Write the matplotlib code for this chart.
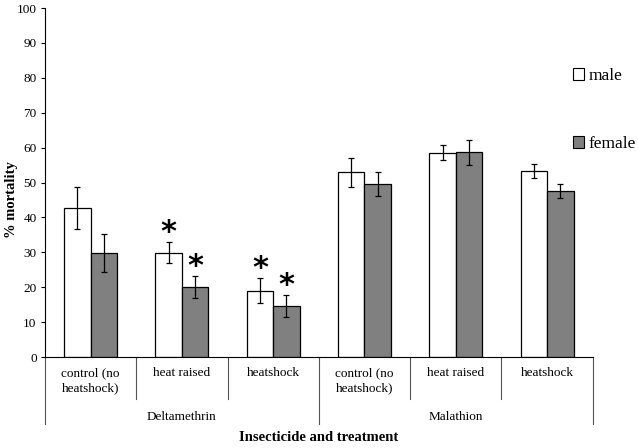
import matplotlib
matplotlib.use("Agg")
import matplotlib.pyplot as plt
from matplotlib.patches import Patch
import numpy as np

plt.rcParams['font.family'] = ['Liberation Serif', 'DejaVu Serif']

treatments = ["control (no\nheatshock)", "heat raised", "heatshock",
              "control (no\nheatshock)", "heat raised", "heatshock"]
insecticides = ["Deltamethrin", "Malathion"]
male = [42.7, 29.9, 19.0, 52.9, 58.6, 53.3]
male_err = [6.1, 3.0, 3.6, 4.2, 2.2, 2.0]
female = [29.8, 20.0, 14.6, 49.5, 58.7, 47.6]
female_err = [5.5, 3.1, 3.2, 3.4, 3.6, 2.0]
male_sig = [False, True, True, False, False, False]
female_sig = [False, True, True, False, False, False]

fig = plt.figure(figsize=(6.38, 4.48), dpi=100)
ax = fig.add_axes([0.0705, 0.2031, 0.8585, 0.7789])

x = np.arange(len(treatments))
w = 0.29
off = 0.145
ekw = dict(elinewidth=0.9, capthick=0.9, ecolor='black')
ax.bar(x - off, male, w, color='white', edgecolor='black', linewidth=0.9,
       yerr=male_err, capsize=2, error_kw=ekw, zorder=2)
ax.bar(x + off, female, w, color='#808080', edgecolor='black', linewidth=0.9,
       yerr=female_err, capsize=2, error_kw=ekw, zorder=2)

for i in range(len(x)):
    if male_sig[i]:
        ax.text(x[i] - off, male[i] + male_err[i] + 3.6, "*", ha='center', va='center_baseline',
                fontsize=22, fontweight='bold', family='DejaVu Sans')
    if female_sig[i]:
        ax.text(x[i] + off, female[i] + female_err[i] + 3.6, "*", ha='center', va='center_baseline',
                fontsize=22, fontweight='bold', family='DejaVu Sans')

ax.set_xlim(-0.5, len(x) - 0.5)
ax.set_ylim(0, 100)
ax.set_yticks(np.arange(0, 101, 10))
ax.tick_params(axis='y', direction='out', length=3, width=0.8, labelsize=9.5, pad=3)
ax.set_xticks([])
for s in ['top', 'right']:
    ax.spines[s].set_visible(False)
ax.spines['left'].set_linewidth(0.8)
ax.spines['bottom'].set_linewidth(0.8)

tr = ax.get_xaxis_transform()
# category labels
for i, t in enumerate(treatments):
    ax.text(x[i], -0.03, t, transform=tr, ha='center', va='top', fontsize=9.5,
            linespacing=1.3)
# short dividers
for d in [0.5, 1.5, 3.5, 4.5]:
    ax.plot([d, d], [0, -0.12], transform=tr, color='#555555', lw=0.8, clip_on=False)
# long dividers
for d in [-0.5, 2.5, 5.5]:
    ax.plot([d, d], [0, -0.192], transform=tr, color='#555555', lw=0.8, clip_on=False)
# group labels
for g, name in enumerate(insecticides):
    ax.text(g * 3 + 1, -0.172, name, transform=tr, ha='center', va='center', fontsize=9.5)

fig.text(318.5 / 638, 1 - 437 / 448, "Insecticide and treatment", ha='center', va='center',
         fontsize=10.5, fontweight='bold')
fig.text(12 / 638, 1 - 200 / 448, "% mortality", ha='center', va='center', rotation=90,
         fontsize=10.5, fontweight='bold')

handles = [Patch(facecolor='white', edgecolor='black', linewidth=0.8),
           Patch(facecolor='#808080', edgecolor='black', linewidth=0.8)]
fig.legend(handles, ["male", "female"], loc='upper left',
           bbox_to_anchor=(573 / 638, 1 - 68 / 448), frameon=False, fontsize=12.5,
           handlelength=0.65, handleheight=0.65, handletextpad=0.25, labelspacing=3.0,
           borderpad=0, borderaxespad=0)

fig.savefig("out.png", dpi=100)
